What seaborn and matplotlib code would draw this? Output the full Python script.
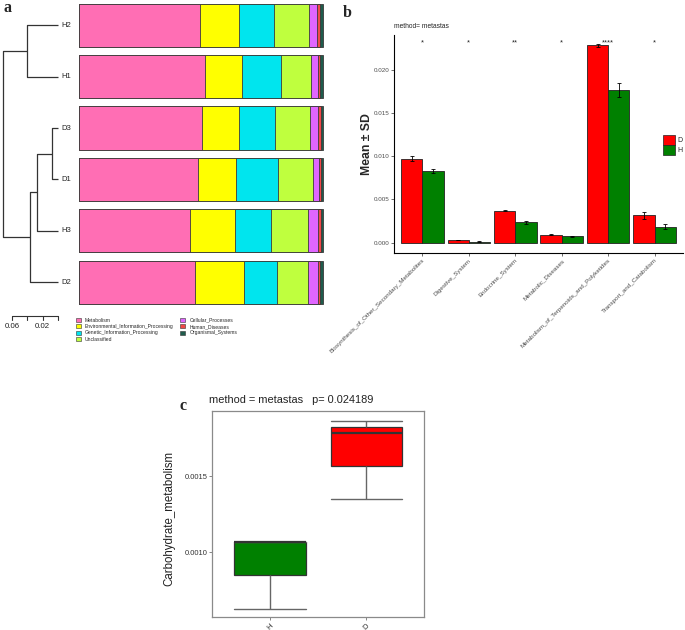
import numpy as np
import pandas as pd
import matplotlib
matplotlib.use("Agg")
import matplotlib.pyplot as plt
import seaborn as sns
from matplotlib.patches import Patch
from matplotlib.ticker import FormatStrFormatter

# ---------------- Panel a data ----------------
samples = ["H2", "H1", "D3", "D1", "H3", "D2"]
pathways = ["Metabolism", "Environmental_Information_Processing",
            "Genetic_Information_Processing", "Unclassified",
            "Cellular_Processes", "Human_Diseases", "Organismal_Systems"]
metabolism = [0.496, 0.515, 0.504, 0.489, 0.456, 0.474]
env_info = [0.158, 0.153, 0.153, 0.153, 0.183, 0.203]
gen_info = [0.146, 0.159, 0.148, 0.172, 0.147, 0.133]
unclassified = [0.143, 0.124, 0.143, 0.146, 0.153, 0.129]
cellular = [0.034, 0.027, 0.033, 0.024, 0.042, 0.039]
human_dis = [0.010, 0.010, 0.009, 0.006, 0.009, 0.010]
organismal = [0.013, 0.012, 0.010, 0.010, 0.010, 0.012]
path_colors = ["#FF6EB4", "#FFFF00", "#00E5EE", "#BFFF3E",
               "#E066FF", "#F04848", "#1F5C4C"]

# dendrogram merges: (left, right, height)
merges = [("D3", "D1", 0.0078), ("m1", "H3", 0.0275), ("m2", "D2", 0.0366),
          ("H2", "H1", 0.0405), ("m4", "m3", 0.0719)]
scale_ticks = [0.06, 0.04, 0.02, 0.0]
scale_labels = ["0.06", "", "0.02", ""]

# ---------------- Panel b data ----------------
kegg_terms = ["Biosynthesis_of_Other_Secondary_Metabolites", "Digestive_System",
              "Endocrine_System", "Metabolic_Diseases",
              "Metabolism_of_Terpenoids_and_Polyketides", "Transport_and_Catabolism"]
mean_D = [0.00969, 0.00032, 0.00368, 0.00093, 0.02280, 0.00316]
mean_H = [0.00827, 0.00012, 0.00234, 0.00072, 0.01760, 0.00182]
sd_D = [0.00028, 0.00003, 0.00006, 0.00004, 0.00020, 0.00040]
sd_H = [0.00020, 0.00005, 0.00020, 0.00004, 0.00080, 0.00030]
signif = ["*", "*", "**", "*", "****", "*"]
star_level = 0.0231

# ---------------- Panel c data ----------------
box_groups = ["H", "H", "H", "D", "D", "D"]
carb_values = [0.000630, 0.001066, 0.001070, 0.001350, 0.001780, 0.001860]

group_colors = {"D": "#FF0000", "H": "#008000"}

sns.set_style("white")
plt.rcParams["font.family"] = ["Liberation Sans", "DejaVu Sans"]

W, H = 685, 630
fig = plt.figure(figsize=(W / 100, H / 100), dpi=100)


def px_axes(x0, y0, x1, y1):
    return fig.add_axes([x0 / W, 1 - y1 / H, (x1 - x0) / W, (y1 - y0) / H])


# ===== Panel a: stacked bars =====
comp = np.array([metabolism, env_info, gen_info, unclassified,
                 cellular, human_dis, organismal])
cum = np.cumsum(comp, axis=0)
ax_bar = px_axes(79, 0, 324, 308)
for k in reversed(range(len(pathways))):
    dfk = pd.DataFrame({"sample": samples, "value": cum[k]})
    sns.barplot(data=dfk, y="sample", x="value", order=samples, orient="h",
                color=path_colors[k], saturation=1, width=0.84,
                edgecolor="#3a3a3a", linewidth=0.6, ax=ax_bar)
ax_bar.set_xlim(0, 1.004)
ax_bar.set_ylim(5.5, -0.49)
ax_bar.axis("off")

# dendrogram
ax_den = px_axes(0, 0, 79, 308)
pos = {s: i for i, s in enumerate(samples)}
hgt = {s: 0.0 for s in samples}
for j, (l, r, h) in enumerate(merges):
    ax_den.plot([hgt[l], h, h, hgt[r]], [pos[l], pos[l], pos[r], pos[r]],
                color="#333333", lw=0.9, solid_capstyle="butt")
    name = f"m{j + 1}"
    pos[name] = (pos[l] + pos[r]) / 2
    hgt[name] = h
for s in samples:
    ax_den.text(-0.004, pos[s], s, ha="left", va="center", fontsize=5.5,
                color="#222222")
ax_den.set_xlim(0.0758, -0.0275)
ax_den.set_ylim(5.5, -0.49)
ax_den.axis("off")

# scale bar
ax_sc = px_axes(0, 308, 79, 335)
ax_sc.plot([scale_ticks[0], scale_ticks[-1]], [0.70, 0.70], color="#333333", lw=0.8)
for t, lab in zip(scale_ticks, scale_labels):
    ax_sc.plot([t, t], [0.70, 0.56], color="#333333", lw=0.8)
    if lab:
        ax_sc.text(t, 0.30, lab, ha="center", va="center", fontsize=5.7,
                   color="#222222")
ax_sc.set_xlim(0.0758, -0.0275)
ax_sc.set_ylim(0, 1)
ax_sc.axis("off")

# legend a
handles_a = [Patch(facecolor=c, edgecolor="#333333", linewidth=0.4, label=p)
             for p, c in zip(pathways, path_colors)]
fig.legend(handles=handles_a, loc="upper left",
           bbox_to_anchor=(76 / W, 1 - 317.5 / H), ncol=2, fontsize=3.6,
           frameon=False, handlelength=0.9, handleheight=0.9,
           handletextpad=0.9, labelspacing=0.28, columnspacing=1.3,
           borderpad=0, borderaxespad=0)

# ===== Panel b: grouped bars =====
axB = px_axes(394, 35, 683, 253)
dfb = pd.DataFrame({"term": kegg_terms * 2,
                    "group": ["D"] * len(kegg_terms) + ["H"] * len(kegg_terms),
                    "mean": mean_D + mean_H})
sns.barplot(data=dfb, x="term", y="mean", hue="group", order=kegg_terms,
            hue_order=["D", "H"], palette=group_colors, width=0.915,
            saturation=1, edgecolor="#222222", linewidth=0.6, errorbar=None,
            legend=False, ax=axB)
for cont, sds in zip(axB.containers, [sd_D, sd_H]):
    xs = [p.get_x() + p.get_width() / 2 for p in cont]
    ys = [p.get_height() for p in cont]
    axB.errorbar(xs, ys, yerr=sds, fmt="none", ecolor="black",
                 elinewidth=0.6, capsize=1.2, capthick=0.6)
for i, s in enumerate(signif):
    axB.text(i, star_level, s, ha="center", va="center", fontsize=5.3,
             color="#222222")
axB.set_xlim(-0.61, len(kegg_terms) - 0.39)
axB.set_ylim(-0.0012, 0.024)
axB.set_yticks([0.0, 0.005, 0.010, 0.015, 0.020])
axB.yaxis.set_major_formatter(FormatStrFormatter("%.3f"))
axB.set_xlabel("")
axB.set_ylabel("Mean ± SD", fontsize=8.8, fontweight="bold")
axB.yaxis.set_label_coords(-0.073, 0.5)
for sp in ["top", "right"]:
    axB.spines[sp].set_visible(False)
for sp in ["left", "bottom"]:
    axB.spines[sp].set_color("black")
    axB.spines[sp].set_linewidth(0.8)
axB.tick_params(axis="both", length=2, width=0.5, color="#333333",
                labelsize=4.5, labelcolor="#4d4d4d", pad=1.5)
axB.tick_params(axis="both", which="both", left=True, bottom=True)
for lab in axB.get_xticklabels():
    lab.set_rotation(45)
    lab.set_ha("right")
    lab.set_rotation_mode("anchor")
fig.text(394 / W, 1 - 27 / H, "method= metastas", fontsize=4.8,
         va="center", ha="left", color="#222222")
handles_b = [Patch(facecolor=group_colors[g], edgecolor="#222222",
                   linewidth=0.5, label=g) for g in ["D", "H"]]
fig.legend(handles=handles_b, loc="upper left",
           bbox_to_anchor=(663 / W, 1 - 135 / H), frameon=False, fontsize=5,
           handlelength=1.7, handleheight=1.8, labelspacing=0,
           handletextpad=0.4, borderpad=0, borderaxespad=0)

# ===== Panel c: boxplot =====
axC = px_axes(212.3, 411, 424.3, 617.3)
dfc = pd.DataFrame({"group": box_groups, "value": carb_values})
sns.boxplot(data=dfc, x="group", y="value", hue="group", order=["H", "D"],
            hue_order=["H", "D"], palette=group_colors, width=0.745,
            saturation=1, linecolor="#333333", linewidth=0.9, whis=(0, 100),
            legend=False, ax=axC, capwidths=0.745,
            whiskerprops=dict(color="#666666", linewidth=1.0),
            capprops=dict(color="#666666", linewidth=1.0),
            medianprops=dict(color="#333333", linewidth=1.6))
axC.set_xlim(-0.6, 1.6)
axC.set_ylim(0.000574, 0.001926)
axC.set_yticks([0.0010, 0.0015])
axC.yaxis.set_major_formatter(FormatStrFormatter("%.4f"))
axC.set_xlabel("")
axC.set_ylabel("Carbohydrate_metabolism", fontsize=8.3, color="#222222")
axC.yaxis.set_label_coords(-0.176, 0.479)
for sp in axC.spines.values():
    sp.set_visible(True)
    sp.set_color("#8a8a8a")
    sp.set_linewidth(0.9)
axC.tick_params(axis="both", length=2, width=0.5, color="#555555",
                labelsize=5.5, labelcolor="#333333", pad=1.5,
                left=True, bottom=True)
for lab in axC.get_xticklabels():
    lab.set_rotation(45)
    lab.set_ha("center")
fig.text(209 / W, 1 - 400 / H, "method = metastas   p= 0.024189",
         fontsize=7.9, va="center", ha="left", color="#222222")

# panel letters
for x, y, t in [(3, 12, "a"), (343, 17, "b"), (179, 410, "c")]:
    fig.text(x / W, 1 - y / H, t, fontsize=11.5, fontweight="bold",
             family="Liberation Serif", va="baseline", ha="left")

fig.savefig("out.png", dpi=100)
